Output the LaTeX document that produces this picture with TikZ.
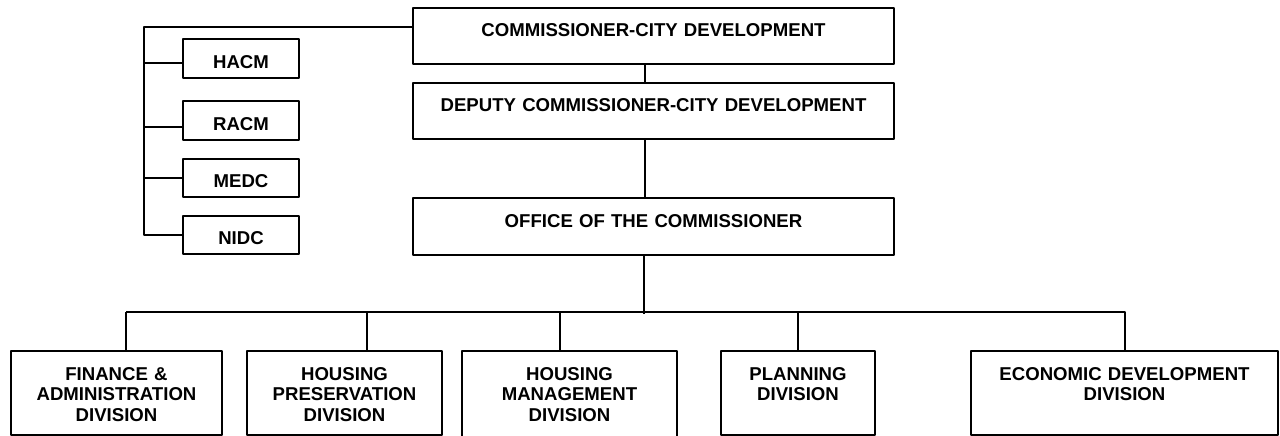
\documentclass[tikz,border=0pt]{standalone}
\usepackage{fontspec}
\setmainfont{Liberation Sans}
\begin{document}
\begin{tikzpicture}[x=1pt, y=-1pt, font=\fontsize{18.6}{20.5}\selectfont\bfseries, line join=round]
	\tikzset{unit/.style={draw, line width=2.4pt, inner sep=0pt, align=center, anchor=north},
		link/.style={line width=2pt}}
	\useasboundingbox (0,0) rectangle (1280,436);
	% head office
	\node[unit, text width=481pt, text height=28pt, text depth=28pt] (cmr) at (653.5,7) {COMMISSIONER-CITY DEVELOPMENT};
	\node[unit, text width=481pt, text height=28pt, text depth=28pt] (dep) at (653.5,82) {DEPUTY COMMISSIONER-CITY DEVELOPMENT};
	\node[unit, text width=481pt, text height=29pt, text depth=28pt] (off) at (653.5,197) {OFFICE OF THE COMMISSIONER};
	% agencies
	\node[unit, text width=116pt, text height=29pt, text depth=10pt] (hacm) at (241,38) {HACM};
	\node[unit, text width=116pt, text height=29pt, text depth=10pt] (racm) at (241,100) {RACM};
	\node[unit, text width=116pt, text height=28pt, text depth=10pt] (medc) at (241,158) {MEDC};
	\node[unit, text width=116pt, text height=28pt, text depth=10pt] (nidc) at (241,215) {NIDC};
	% divisions
	\node[unit, text width=211pt, text height=29pt, text depth=55pt] (fin) at (116.5,350) {FINANCE \&\\ADMINISTRATION\\DIVISION};
	\node[unit, text width=195pt, text height=29pt, text depth=55pt] (hpd) at (344.5,350) {HOUSING\\PRESERVATION\\DIVISION};
	\node[unit, text width=215pt, text height=29pt, text depth=61pt] (hmd) at (569.5,350) {HOUSING\\MANAGEMENT\\DIVISION};
	\node[unit, text width=154pt, text height=29pt, text depth=55pt] (pln) at (798,350) {PLANNING\\DIVISION};
	\node[unit, text width=307pt, text height=29pt, text depth=55pt] (edd) at (1124.5,350) {ECONOMIC DEVELOPMENT\\DIVISION};
	% lines
	\draw[link] ([xshift=-8.5pt]cmr.south) -- ([xshift=-8.5pt]dep.north);
	\draw[link] ([xshift=-8.5pt]dep.south) -- ([xshift=-8.5pt]off.north);
	\draw[link] ([yshift=9pt]cmr.west) -| ([xshift=-38pt]nidc.west) -- (nidc.west);
	\draw[link] ([yshift=-4pt]hacm.west) -- ++(-38,0);
	\draw[link] ([yshift=-6pt]racm.west) -- ++(-38,0);
	\draw[link] (medc.west) -- ++(-38,0);
	\draw[link] ([xshift=-9.5pt]off.south) -- ++(0,58);
	\draw[link] ([xshift=9.5pt]fin.north) ++(0,-38) -| (edd.north);
	\foreach \n/\s in {fin/9.5, hpd/22.5, hmd/-9.5, pln/0}
		\draw[link] ([xshift=\s pt]\n.north) -- ++(0,-38);
\end{tikzpicture}
\end{document}
